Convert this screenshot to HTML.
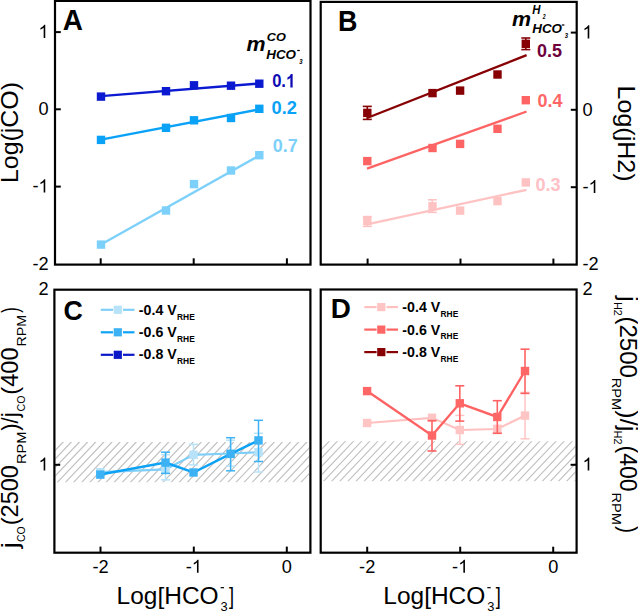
<!DOCTYPE html>
<html><head><meta charset="utf-8"><style>
html,body{margin:0;padding:0;background:#fff;}
svg{display:block;font-family:"Liberation Sans", sans-serif;}
</style></head><body>
<svg width="638" height="613" viewBox="0 0 638 613">
<rect x="0" y="0" width="638" height="613" fill="#fff"/>
<line x1="101" y1="244.6" x2="259.3" y2="155.5" stroke="#7dd0fa" stroke-width="2.35" />
<rect x="96.8" y="240.4" width="8.4" height="8.4" fill="#7dd0fa"/>
<rect x="161.8" y="206.3" width="8.4" height="8.4" fill="#7dd0fa"/>
<rect x="189.8" y="179.9" width="8.4" height="8.4" fill="#7dd0fa"/>
<rect x="226.8" y="166.3" width="8.4" height="8.4" fill="#7dd0fa"/>
<rect x="255.1" y="151.0" width="8.4" height="8.4" fill="#7dd0fa"/>
<line x1="101" y1="139.7" x2="259.3" y2="109.3" stroke="#0aa2f6" stroke-width="2.35" />
<rect x="96.8" y="135.7" width="8.4" height="8.4" fill="#0aa2f6"/>
<rect x="161.8" y="123.6" width="8.4" height="8.4" fill="#0aa2f6"/>
<rect x="189.8" y="116.1" width="8.4" height="8.4" fill="#0aa2f6"/>
<rect x="226.8" y="113.8" width="8.4" height="8.4" fill="#0aa2f6"/>
<rect x="255.1" y="104.6" width="8.4" height="8.4" fill="#0aa2f6"/>
<line x1="101" y1="96.2" x2="259.3" y2="83.5" stroke="#0b1ad0" stroke-width="2.35" />
<rect x="96.8" y="92.4" width="8.4" height="8.4" fill="#0b1ad0"/>
<rect x="161.8" y="87.0" width="8.4" height="8.4" fill="#0b1ad0"/>
<rect x="189.8" y="81.1" width="8.4" height="8.4" fill="#0b1ad0"/>
<rect x="226.8" y="81.5" width="8.4" height="8.4" fill="#0b1ad0"/>
<rect x="255.1" y="79.5" width="8.4" height="8.4" fill="#0b1ad0"/>
<line x1="367.3" y1="216.6" x2="367.3" y2="226.4" stroke="#ffc2c2" stroke-width="1.6" />
<line x1="362.8" y1="216.6" x2="371.8" y2="216.6" stroke="#ffc2c2" stroke-width="1.6" />
<line x1="362.8" y1="226.4" x2="371.8" y2="226.4" stroke="#ffc2c2" stroke-width="1.6" />
<line x1="432.3" y1="199.8" x2="432.3" y2="212.4" stroke="#ffc2c2" stroke-width="1.6" />
<line x1="427.8" y1="199.8" x2="436.8" y2="199.8" stroke="#ffc2c2" stroke-width="1.6" />
<line x1="427.8" y1="212.4" x2="436.8" y2="212.4" stroke="#ffc2c2" stroke-width="1.6" />
<line x1="367" y1="224.3" x2="526.6" y2="189.8" stroke="#ffc2c2" stroke-width="2.35" />
<rect x="363.1" y="216.9" width="8.4" height="8.4" fill="#ffc2c2"/>
<rect x="428.3" y="202.1" width="8.4" height="8.4" fill="#ffc2c2"/>
<rect x="455.9" y="206.4" width="8.4" height="8.4" fill="#ffc2c2"/>
<rect x="493.3" y="196.9" width="8.4" height="8.4" fill="#ffc2c2"/>
<rect x="521.6" y="178.2" width="8.4" height="8.4" fill="#ffc2c2"/>
<line x1="367" y1="168.6" x2="526.6" y2="111.5" stroke="#ff6464" stroke-width="2.35" />
<rect x="363.1" y="156.9" width="8.4" height="8.4" fill="#ff6464"/>
<rect x="428.3" y="143.8" width="8.4" height="8.4" fill="#ff6464"/>
<rect x="455.9" y="139.7" width="8.4" height="8.4" fill="#ff6464"/>
<rect x="493.3" y="124.6" width="8.4" height="8.4" fill="#ff6464"/>
<rect x="521.6" y="96.0" width="8.4" height="8.4" fill="#ff6464"/>
<line x1="367.3" y1="106.4" x2="367.3" y2="119.4" stroke="#860004" stroke-width="1.6" />
<line x1="362.8" y1="106.4" x2="371.8" y2="106.4" stroke="#860004" stroke-width="1.6" />
<line x1="362.8" y1="119.4" x2="371.8" y2="119.4" stroke="#860004" stroke-width="1.6" />
<line x1="525.8" y1="38.0" x2="525.8" y2="49.6" stroke="#860004" stroke-width="1.6" />
<line x1="521.3" y1="38.0" x2="530.3" y2="38.0" stroke="#860004" stroke-width="1.6" />
<line x1="521.3" y1="49.6" x2="530.3" y2="49.6" stroke="#860004" stroke-width="1.6" />
<line x1="367" y1="118.0" x2="526.6" y2="55.1" stroke="#860004" stroke-width="2.35" />
<rect x="363.1" y="108.7" width="8.4" height="8.4" fill="#860004"/>
<rect x="428.3" y="88.9" width="8.4" height="8.4" fill="#860004"/>
<rect x="455.9" y="86.4" width="8.4" height="8.4" fill="#860004"/>
<rect x="493.3" y="70.3" width="8.4" height="8.4" fill="#860004"/>
<rect x="521.6" y="39.6" width="8.4" height="8.4" fill="#860004"/>
<clipPath id="hc"><rect x="55.3" y="442.0" width="253.89999999999998" height="40.30000000000001"/></clipPath>
<g clip-path="url(#hc)" stroke="#c0c0c0" stroke-width="1.15" stroke-linecap="round"><line x1="8.58" y1="482.3" x2="46.95" y2="442.0"/><line x1="16.70" y1="482.3" x2="55.07" y2="442.0"/><line x1="24.82" y1="482.3" x2="63.19" y2="442.0"/><line x1="32.94" y1="482.3" x2="71.31" y2="442.0"/><line x1="41.06" y1="482.3" x2="79.43" y2="442.0"/><line x1="49.18" y1="482.3" x2="87.55" y2="442.0"/><line x1="57.30" y1="482.3" x2="95.67" y2="442.0"/><line x1="65.42" y1="482.3" x2="103.79" y2="442.0"/><line x1="73.54" y1="482.3" x2="111.91" y2="442.0"/><line x1="81.66" y1="482.3" x2="120.03" y2="442.0"/><line x1="89.78" y1="482.3" x2="128.15" y2="442.0"/><line x1="97.90" y1="482.3" x2="136.27" y2="442.0"/><line x1="106.02" y1="482.3" x2="144.39" y2="442.0"/><line x1="114.14" y1="482.3" x2="152.51" y2="442.0"/><line x1="122.26" y1="482.3" x2="160.63" y2="442.0"/><line x1="130.38" y1="482.3" x2="168.75" y2="442.0"/><line x1="138.50" y1="482.3" x2="176.87" y2="442.0"/><line x1="146.62" y1="482.3" x2="184.99" y2="442.0"/><line x1="154.74" y1="482.3" x2="193.11" y2="442.0"/><line x1="162.86" y1="482.3" x2="201.23" y2="442.0"/><line x1="170.98" y1="482.3" x2="209.35" y2="442.0"/><line x1="179.10" y1="482.3" x2="217.47" y2="442.0"/><line x1="187.22" y1="482.3" x2="225.59" y2="442.0"/><line x1="195.34" y1="482.3" x2="233.71" y2="442.0"/><line x1="203.46" y1="482.3" x2="241.83" y2="442.0"/><line x1="211.58" y1="482.3" x2="249.95" y2="442.0"/><line x1="219.70" y1="482.3" x2="258.07" y2="442.0"/><line x1="227.82" y1="482.3" x2="266.19" y2="442.0"/><line x1="235.94" y1="482.3" x2="274.31" y2="442.0"/><line x1="244.06" y1="482.3" x2="282.43" y2="442.0"/><line x1="252.18" y1="482.3" x2="290.55" y2="442.0"/><line x1="260.30" y1="482.3" x2="298.67" y2="442.0"/><line x1="268.42" y1="482.3" x2="306.79" y2="442.0"/><line x1="276.54" y1="482.3" x2="314.91" y2="442.0"/><line x1="284.66" y1="482.3" x2="323.03" y2="442.0"/><line x1="292.78" y1="482.3" x2="331.15" y2="442.0"/><line x1="300.90" y1="482.3" x2="339.27" y2="442.0"/><line x1="309.02" y1="482.3" x2="347.39" y2="442.0"/></g>
<line x1="165.5" y1="454.7" x2="165.5" y2="479.9" stroke="#b8e2f8" stroke-width="1.5" />
<line x1="161.0" y1="454.7" x2="170.0" y2="454.7" stroke="#b8e2f8" stroke-width="1.5" />
<line x1="161.0" y1="479.9" x2="170.0" y2="479.9" stroke="#b8e2f8" stroke-width="1.5" />
<line x1="193.5" y1="444.4" x2="193.5" y2="464.9" stroke="#b8e2f8" stroke-width="1.5" />
<line x1="189.0" y1="444.4" x2="198.0" y2="444.4" stroke="#b8e2f8" stroke-width="1.5" />
<line x1="189.0" y1="464.9" x2="198.0" y2="464.9" stroke="#b8e2f8" stroke-width="1.5" />
<line x1="230.6" y1="440.2" x2="230.6" y2="466.1" stroke="#b8e2f8" stroke-width="1.5" />
<line x1="226.1" y1="440.2" x2="235.1" y2="440.2" stroke="#b8e2f8" stroke-width="1.5" />
<line x1="226.1" y1="466.1" x2="235.1" y2="466.1" stroke="#b8e2f8" stroke-width="1.5" />
<line x1="258.5" y1="433.3" x2="258.5" y2="472.0" stroke="#b8e2f8" stroke-width="1.5" />
<line x1="254.0" y1="433.3" x2="263.0" y2="433.3" stroke="#b8e2f8" stroke-width="1.5" />
<line x1="254.0" y1="472.0" x2="263.0" y2="472.0" stroke="#b8e2f8" stroke-width="1.5" />
<polyline points="100.3,472.2 165.5,469.4 193.5,454.8 230.6,453.5 258.5,452.2" fill="none" stroke="#7fcff8" stroke-width="2.2"/>
<rect x="96.1" y="468.0" width="8.4" height="8.4" fill="#b8e2f8"/>
<rect x="161.3" y="465.2" width="8.4" height="8.4" fill="#b8e2f8"/>
<rect x="189.3" y="450.6" width="8.4" height="8.4" fill="#b8e2f8"/>
<rect x="226.4" y="449.3" width="8.4" height="8.4" fill="#b8e2f8"/>
<rect x="254.3" y="448.0" width="8.4" height="8.4" fill="#b8e2f8"/>
<line x1="165.5" y1="452.2" x2="165.5" y2="473.4" stroke="#3cb2f4" stroke-width="1.5" />
<line x1="161.0" y1="452.2" x2="170.0" y2="452.2" stroke="#3cb2f4" stroke-width="1.5" />
<line x1="161.0" y1="473.4" x2="170.0" y2="473.4" stroke="#3cb2f4" stroke-width="1.5" />
<line x1="230.6" y1="437.7" x2="230.6" y2="470.8" stroke="#3cb2f4" stroke-width="1.5" />
<line x1="226.1" y1="437.7" x2="235.1" y2="437.7" stroke="#3cb2f4" stroke-width="1.5" />
<line x1="226.1" y1="470.8" x2="235.1" y2="470.8" stroke="#3cb2f4" stroke-width="1.5" />
<line x1="258.5" y1="420.3" x2="258.5" y2="461.5" stroke="#3cb2f4" stroke-width="1.5" />
<line x1="254.0" y1="420.3" x2="263.0" y2="420.3" stroke="#3cb2f4" stroke-width="1.5" />
<line x1="254.0" y1="461.5" x2="263.0" y2="461.5" stroke="#3cb2f4" stroke-width="1.5" />
<polyline points="100.3,474.6 165.5,462.6 193.5,472.5 230.6,453.9 258.5,440.4" fill="none" stroke="#0ea2f4" stroke-width="2.5"/>
<rect x="96.1" y="470.4" width="8.4" height="8.4" fill="#3cb2f4"/>
<rect x="161.3" y="458.4" width="8.4" height="8.4" fill="#3cb2f4"/>
<rect x="189.3" y="468.3" width="8.4" height="8.4" fill="#3cb2f4"/>
<rect x="226.4" y="449.7" width="8.4" height="8.4" fill="#3cb2f4"/>
<rect x="254.3" y="436.2" width="8.4" height="8.4" fill="#3cb2f4"/>
<line x1="100.8" y1="309.8" x2="113.1" y2="309.8" stroke="#7fcff8" stroke-width="2.2" />
<line x1="123.0" y1="309.8" x2="134.5" y2="309.8" stroke="#7fcff8" stroke-width="2.2" />
<rect x="113.7" y="305.7" width="8.2" height="8.2" fill="#b8e2f8"/>
<text x="138.85" y="315.00" font-size="14.6" font-weight="bold" font-style="normal" fill="#000" textLength="37.85" lengthAdjust="spacingAndGlyphs">-0.4 V</text>
<text x="177.04" y="319.80" font-size="9.3" font-weight="bold" font-style="normal" fill="#000" textLength="17.69" lengthAdjust="spacingAndGlyphs">RHE</text>
<line x1="100.8" y1="332.3" x2="113.1" y2="332.3" stroke="#0ea2f4" stroke-width="2.2" />
<line x1="123.0" y1="332.3" x2="134.5" y2="332.3" stroke="#0ea2f4" stroke-width="2.2" />
<rect x="113.7" y="328.2" width="8.2" height="8.2" fill="#3cb2f4"/>
<text x="138.85" y="337.20" font-size="14.6" font-weight="bold" font-style="normal" fill="#000" textLength="37.85" lengthAdjust="spacingAndGlyphs">-0.6 V</text>
<text x="177.04" y="342.00" font-size="9.3" font-weight="bold" font-style="normal" fill="#000" textLength="17.69" lengthAdjust="spacingAndGlyphs">RHE</text>
<line x1="100.8" y1="354.8" x2="113.1" y2="354.8" stroke="#0a18c8" stroke-width="2.2" />
<line x1="123.0" y1="354.8" x2="134.5" y2="354.8" stroke="#0a18c8" stroke-width="2.2" />
<rect x="113.7" y="350.7" width="8.2" height="8.2" fill="#0a18c8"/>
<text x="138.85" y="359.40" font-size="14.6" font-weight="bold" font-style="normal" fill="#000" textLength="37.85" lengthAdjust="spacingAndGlyphs">-0.8 V</text>
<text x="177.04" y="364.20" font-size="9.3" font-weight="bold" font-style="normal" fill="#000" textLength="17.69" lengthAdjust="spacingAndGlyphs">RHE</text>
<clipPath id="hd"><rect x="322.1" y="441.2" width="253.5" height="40.10000000000002"/></clipPath>
<g clip-path="url(#hd)" stroke="#c0c0c0" stroke-width="1.15" stroke-linecap="round"><line x1="274.90" y1="481.3" x2="313.08" y2="441.2"/><line x1="283.00" y1="481.3" x2="321.18" y2="441.2"/><line x1="291.10" y1="481.3" x2="329.28" y2="441.2"/><line x1="299.20" y1="481.3" x2="337.38" y2="441.2"/><line x1="307.30" y1="481.3" x2="345.48" y2="441.2"/><line x1="315.40" y1="481.3" x2="353.58" y2="441.2"/><line x1="323.50" y1="481.3" x2="361.68" y2="441.2"/><line x1="331.60" y1="481.3" x2="369.78" y2="441.2"/><line x1="339.70" y1="481.3" x2="377.88" y2="441.2"/><line x1="347.80" y1="481.3" x2="385.98" y2="441.2"/><line x1="355.90" y1="481.3" x2="394.08" y2="441.2"/><line x1="364.00" y1="481.3" x2="402.18" y2="441.2"/><line x1="372.10" y1="481.3" x2="410.28" y2="441.2"/><line x1="380.20" y1="481.3" x2="418.38" y2="441.2"/><line x1="388.30" y1="481.3" x2="426.48" y2="441.2"/><line x1="396.40" y1="481.3" x2="434.58" y2="441.2"/><line x1="404.50" y1="481.3" x2="442.68" y2="441.2"/><line x1="412.60" y1="481.3" x2="450.78" y2="441.2"/><line x1="420.70" y1="481.3" x2="458.88" y2="441.2"/><line x1="428.80" y1="481.3" x2="466.98" y2="441.2"/><line x1="436.90" y1="481.3" x2="475.08" y2="441.2"/><line x1="445.00" y1="481.3" x2="483.18" y2="441.2"/><line x1="453.10" y1="481.3" x2="491.28" y2="441.2"/><line x1="461.20" y1="481.3" x2="499.38" y2="441.2"/><line x1="469.30" y1="481.3" x2="507.48" y2="441.2"/><line x1="477.40" y1="481.3" x2="515.58" y2="441.2"/><line x1="485.50" y1="481.3" x2="523.68" y2="441.2"/><line x1="493.60" y1="481.3" x2="531.78" y2="441.2"/><line x1="501.70" y1="481.3" x2="539.88" y2="441.2"/><line x1="509.80" y1="481.3" x2="547.98" y2="441.2"/><line x1="517.90" y1="481.3" x2="556.08" y2="441.2"/><line x1="526.00" y1="481.3" x2="564.18" y2="441.2"/><line x1="534.10" y1="481.3" x2="572.28" y2="441.2"/><line x1="542.20" y1="481.3" x2="580.38" y2="441.2"/><line x1="550.30" y1="481.3" x2="588.48" y2="441.2"/><line x1="558.40" y1="481.3" x2="596.58" y2="441.2"/><line x1="566.50" y1="481.3" x2="604.68" y2="441.2"/><line x1="574.60" y1="481.3" x2="612.78" y2="441.2"/></g>
<line x1="459.8" y1="415.4" x2="459.8" y2="444.3" stroke="#ffc4c4" stroke-width="1.5" />
<line x1="455.3" y1="415.4" x2="464.3" y2="415.4" stroke="#ffc4c4" stroke-width="1.5" />
<line x1="455.3" y1="444.3" x2="464.3" y2="444.3" stroke="#ffc4c4" stroke-width="1.5" />
<line x1="497.3" y1="425.5" x2="497.3" y2="432.5" stroke="#ffc4c4" stroke-width="1.5" />
<line x1="492.8" y1="425.5" x2="501.8" y2="425.5" stroke="#ffc4c4" stroke-width="1.5" />
<line x1="492.8" y1="432.5" x2="501.8" y2="432.5" stroke="#ffc4c4" stroke-width="1.5" />
<line x1="525" y1="392.4" x2="525" y2="438.8" stroke="#ffc4c4" stroke-width="1.5" />
<line x1="520.5" y1="392.4" x2="529.5" y2="392.4" stroke="#ffc4c4" stroke-width="1.5" />
<line x1="520.5" y1="438.8" x2="529.5" y2="438.8" stroke="#ffc4c4" stroke-width="1.5" />
<polyline points="367.1,423 432,417.8 459.8,430 497.3,429 525,415.6" fill="none" stroke="#ffc0c0" stroke-width="2.2"/>
<rect x="362.9" y="418.8" width="8.4" height="8.4" fill="#ffc4c4"/>
<rect x="427.8" y="413.6" width="8.4" height="8.4" fill="#ffc4c4"/>
<rect x="455.6" y="425.8" width="8.4" height="8.4" fill="#ffc4c4"/>
<rect x="493.1" y="424.8" width="8.4" height="8.4" fill="#ffc4c4"/>
<rect x="520.8" y="411.4" width="8.4" height="8.4" fill="#ffc4c4"/>
<line x1="432" y1="420.6" x2="432" y2="451.0" stroke="#ff6262" stroke-width="1.6" />
<line x1="427.5" y1="420.6" x2="436.5" y2="420.6" stroke="#ff6262" stroke-width="1.6" />
<line x1="427.5" y1="451.0" x2="436.5" y2="451.0" stroke="#ff6262" stroke-width="1.6" />
<line x1="459.8" y1="385.8" x2="459.8" y2="421.1" stroke="#ff6262" stroke-width="1.6" />
<line x1="455.3" y1="385.8" x2="464.3" y2="385.8" stroke="#ff6262" stroke-width="1.6" />
<line x1="455.3" y1="421.1" x2="464.3" y2="421.1" stroke="#ff6262" stroke-width="1.6" />
<line x1="497.3" y1="400.7" x2="497.3" y2="433.3" stroke="#ff6262" stroke-width="1.6" />
<line x1="492.8" y1="400.7" x2="501.8" y2="400.7" stroke="#ff6262" stroke-width="1.6" />
<line x1="492.8" y1="433.3" x2="501.8" y2="433.3" stroke="#ff6262" stroke-width="1.6" />
<line x1="525" y1="349.2" x2="525" y2="393.4" stroke="#ff6262" stroke-width="1.6" />
<line x1="520.5" y1="349.2" x2="529.5" y2="349.2" stroke="#ff6262" stroke-width="1.6" />
<line x1="520.5" y1="393.4" x2="529.5" y2="393.4" stroke="#ff6262" stroke-width="1.6" />
<polyline points="367.1,391.1 432,435.5 459.8,403.3 497.3,417 525,371" fill="none" stroke="#ff6262" stroke-width="2.4"/>
<rect x="362.9" y="386.9" width="8.4" height="8.4" fill="#ff6666"/>
<rect x="427.8" y="431.3" width="8.4" height="8.4" fill="#ff6666"/>
<rect x="455.6" y="399.1" width="8.4" height="8.4" fill="#ff6666"/>
<rect x="493.1" y="412.8" width="8.4" height="8.4" fill="#ff6666"/>
<rect x="520.8" y="366.8" width="8.4" height="8.4" fill="#ff6666"/>
<line x1="364.3" y1="307.1" x2="376.6" y2="307.1" stroke="#ffc0c0" stroke-width="2.2" />
<line x1="386.5" y1="307.1" x2="398.0" y2="307.1" stroke="#ffc0c0" stroke-width="2.2" />
<rect x="377.2" y="303.0" width="8.2" height="8.2" fill="#ffc4c4"/>
<text x="402.35" y="312.30" font-size="14.6" font-weight="bold" font-style="normal" fill="#000" textLength="37.85" lengthAdjust="spacingAndGlyphs">-0.4 V</text>
<text x="440.54" y="317.10" font-size="9.3" font-weight="bold" font-style="normal" fill="#000" textLength="17.69" lengthAdjust="spacingAndGlyphs">RHE</text>
<line x1="364.3" y1="329.6" x2="376.6" y2="329.6" stroke="#ff6262" stroke-width="2.2" />
<line x1="386.5" y1="329.6" x2="398.0" y2="329.6" stroke="#ff6262" stroke-width="2.2" />
<rect x="377.2" y="325.5" width="8.2" height="8.2" fill="#ff6666"/>
<text x="402.35" y="334.50" font-size="14.6" font-weight="bold" font-style="normal" fill="#000" textLength="37.85" lengthAdjust="spacingAndGlyphs">-0.6 V</text>
<text x="440.54" y="339.30" font-size="9.3" font-weight="bold" font-style="normal" fill="#000" textLength="17.69" lengthAdjust="spacingAndGlyphs">RHE</text>
<line x1="364.3" y1="352.1" x2="376.6" y2="352.1" stroke="#860004" stroke-width="2.2" />
<line x1="386.5" y1="352.1" x2="398.0" y2="352.1" stroke="#860004" stroke-width="2.2" />
<rect x="377.2" y="348.0" width="8.2" height="8.2" fill="#860004"/>
<text x="402.35" y="356.70" font-size="14.6" font-weight="bold" font-style="normal" fill="#000" textLength="37.85" lengthAdjust="spacingAndGlyphs">-0.8 V</text>
<text x="440.54" y="361.50" font-size="9.3" font-weight="bold" font-style="normal" fill="#000" textLength="17.69" lengthAdjust="spacingAndGlyphs">RHE</text>
<rect x="55" y="0.9" width="255.5" height="263.70000000000005" fill="none" stroke="#000" stroke-width="2.2"/>
<rect x="320.7" y="1.9" width="256.00000000000006" height="262.70000000000005" fill="none" stroke="#000" stroke-width="2.2"/>
<rect x="54.4" y="289.7" width="255.99999999999997" height="263.00000000000006" fill="none" stroke="#000" stroke-width="2.2"/>
<rect x="320.7" y="289.5" width="255.90000000000003" height="263.20000000000005" fill="none" stroke="#000" stroke-width="2.2"/>
<line x1="55" y1="32.1" x2="60.8" y2="32.1" stroke="#000" stroke-width="2.0" />
<line x1="55" y1="109.3" x2="60.8" y2="109.3" stroke="#000" stroke-width="2.0" />
<line x1="55" y1="186.6" x2="60.8" y2="186.6" stroke="#000" stroke-width="2.0" />
<line x1="100.7" y1="264.3" x2="100.7" y2="258.3" stroke="#000" stroke-width="2.0" />
<line x1="193.7" y1="264.3" x2="193.7" y2="258.3" stroke="#000" stroke-width="2.0" />
<line x1="286.9" y1="264.3" x2="286.9" y2="258.3" stroke="#000" stroke-width="2.0" />
<line x1="576.7" y1="32.6" x2="570.8" y2="32.6" stroke="#000" stroke-width="2.0" />
<line x1="576.7" y1="109.8" x2="570.8" y2="109.8" stroke="#000" stroke-width="2.0" />
<line x1="576.7" y1="187.2" x2="570.8" y2="187.2" stroke="#000" stroke-width="2.0" />
<line x1="367.6" y1="264.6" x2="367.6" y2="258.6" stroke="#000" stroke-width="2.0" />
<line x1="460.5" y1="264.6" x2="460.5" y2="258.6" stroke="#000" stroke-width="2.0" />
<line x1="553.4" y1="264.6" x2="553.4" y2="258.6" stroke="#000" stroke-width="2.0" />
<line x1="54.4" y1="464.8" x2="60.2" y2="464.8" stroke="#000" stroke-width="2.0" />
<line x1="100.5" y1="552.6" x2="100.5" y2="546.6" stroke="#000" stroke-width="2.0" />
<line x1="193.8" y1="552.6" x2="193.8" y2="546.6" stroke="#000" stroke-width="2.0" />
<line x1="286.8" y1="552.6" x2="286.8" y2="546.6" stroke="#000" stroke-width="2.0" />
<line x1="576.6" y1="464.8" x2="570.6" y2="464.8" stroke="#000" stroke-width="2.0" />
<line x1="367.2" y1="552.7" x2="367.2" y2="546.7" stroke="#000" stroke-width="2.0" />
<line x1="460.2" y1="552.7" x2="460.2" y2="546.7" stroke="#000" stroke-width="2.0" />
<line x1="553.2" y1="552.7" x2="553.2" y2="546.7" stroke="#000" stroke-width="2.0" />
<path transform="translate(38.48,37.90) scale(0.00889,-0.00889)" d="M763 0L583 0L583 1147Q518 1085 412 1023Q306 961 222 930L222 1104Q373 1175 486 1276Q599 1377 646 1472L763 1472Z" fill="#000"/>
<text x="38.48" y="115.10" font-size="18.2" font-weight="normal" fill="#000" textLength="10.12" lengthAdjust="spacingAndGlyphs">0</text>
<text x="32.42" y="192.40" font-size="18.2" font-weight="normal" fill="#000" textLength="6.06" lengthAdjust="spacingAndGlyphs">-</text><path transform="translate(38.48,192.40) scale(0.00889,-0.00889)" d="M763 0L583 0L583 1147Q518 1085 412 1023Q306 961 222 930L222 1104Q373 1175 486 1276Q599 1377 646 1472L763 1472Z" fill="#000"/>
<text x="32.42" y="269.80" font-size="18.2" font-weight="normal" fill="#000" textLength="16.18" lengthAdjust="spacingAndGlyphs">-2</text>
<path transform="translate(582.50,38.40) scale(0.00889,-0.00889)" d="M763 0L583 0L583 1147Q518 1085 412 1023Q306 961 222 930L222 1104Q373 1175 486 1276Q599 1377 646 1472L763 1472Z" fill="#000"/>
<text x="582.50" y="115.60" font-size="18.2" font-weight="normal" fill="#000" textLength="10.12" lengthAdjust="spacingAndGlyphs">0</text>
<text x="582.50" y="193.00" font-size="18.2" font-weight="normal" fill="#000" textLength="6.06" lengthAdjust="spacingAndGlyphs">-</text><path transform="translate(588.56,193.00) scale(0.00889,-0.00889)" d="M763 0L583 0L583 1147Q518 1085 412 1023Q306 961 222 930L222 1104Q373 1175 486 1276Q599 1377 646 1472L763 1472Z" fill="#000"/>
<text x="582.50" y="270.40" font-size="18.2" font-weight="normal" fill="#000" textLength="16.18" lengthAdjust="spacingAndGlyphs">-2</text>
<text x="38.48" y="295.20" font-size="18.2" font-weight="normal" fill="#000" textLength="10.12" lengthAdjust="spacingAndGlyphs">2</text>
<path transform="translate(38.48,470.60) scale(0.00889,-0.00889)" d="M763 0L583 0L583 1147Q518 1085 412 1023Q306 961 222 930L222 1104Q373 1175 486 1276Q599 1377 646 1472L763 1472Z" fill="#000"/>
<text x="582.50" y="295.20" font-size="18.2" font-weight="normal" fill="#000" textLength="10.12" lengthAdjust="spacingAndGlyphs">2</text>
<path transform="translate(582.50,470.60) scale(0.00889,-0.00889)" d="M763 0L583 0L583 1147Q518 1085 412 1023Q306 961 222 930L222 1104Q373 1175 486 1276Q599 1377 646 1472L763 1472Z" fill="#000"/>
<text x="92.41" y="572.80" font-size="18.2" font-weight="normal" fill="#000" textLength="16.18" lengthAdjust="spacingAndGlyphs">-2</text>
<text x="185.71" y="572.80" font-size="18.2" font-weight="normal" fill="#000" textLength="6.06" lengthAdjust="spacingAndGlyphs">-</text><path transform="translate(191.77,572.80) scale(0.00889,-0.00889)" d="M763 0L583 0L583 1147Q518 1085 412 1023Q306 961 222 930L222 1104Q373 1175 486 1276Q599 1377 646 1472L763 1472Z" fill="#000"/>
<text x="281.74" y="572.80" font-size="18.2" font-weight="normal" fill="#000" textLength="10.12" lengthAdjust="spacingAndGlyphs">0</text>
<text x="359.11" y="572.80" font-size="18.2" font-weight="normal" fill="#000" textLength="16.18" lengthAdjust="spacingAndGlyphs">-2</text>
<text x="452.11" y="572.80" font-size="18.2" font-weight="normal" fill="#000" textLength="6.06" lengthAdjust="spacingAndGlyphs">-</text><path transform="translate(458.17,572.80) scale(0.00889,-0.00889)" d="M763 0L583 0L583 1147Q518 1085 412 1023Q306 961 222 930L222 1104Q373 1175 486 1276Q599 1377 646 1472L763 1472Z" fill="#000"/>
<text x="548.14" y="572.80" font-size="18.2" font-weight="normal" fill="#000" textLength="10.12" lengthAdjust="spacingAndGlyphs">0</text>
<text x="116.59" y="603.60" font-size="24.5" font-weight="normal" font-style="normal" fill="#000" textLength="102.08" lengthAdjust="spacingAndGlyphs">Log[HCO</text>
<text x="220.61" y="610.90" font-size="12.2" font-weight="normal" font-style="normal" fill="#000" textLength="7.16" lengthAdjust="spacingAndGlyphs">3</text>
<rect x="220.6" y="587.1" width="3.4" height="1.2" fill="#000"/>
<text x="229.06" y="603.60" font-size="24.5" font-weight="normal" font-style="normal" fill="#000" textLength="5.03" lengthAdjust="spacingAndGlyphs">]</text>
<text x="383.29" y="603.60" font-size="24.5" font-weight="normal" font-style="normal" fill="#000" textLength="102.08" lengthAdjust="spacingAndGlyphs">Log[HCO</text>
<text x="487.31" y="610.90" font-size="12.2" font-weight="normal" font-style="normal" fill="#000" textLength="7.16" lengthAdjust="spacingAndGlyphs">3</text>
<rect x="487.3" y="587.1" width="3.4" height="1.2" fill="#000"/>
<text x="495.76" y="603.60" font-size="24.5" font-weight="normal" font-style="normal" fill="#000" textLength="5.03" lengthAdjust="spacingAndGlyphs">]</text>
<g transform="translate(17.9,0) rotate(-90)"><text x="-183.04" y="0.00" font-size="24.0" font-weight="normal" font-style="normal" fill="#000" textLength="100.99" lengthAdjust="spacingAndGlyphs">Log(jCO)</text></g>
<g transform="translate(617.6,0) rotate(90)"><text x="85.55" y="0.00" font-size="24.3" font-weight="normal" font-style="normal" fill="#000" textLength="96.01" lengthAdjust="spacingAndGlyphs">Log(jH2)</text></g>
<g transform="translate(18.0,0) rotate(-90)"><text x="-548.15" y="0.00" font-size="24.3" font-weight="normal" font-style="normal" fill="#000" textLength="5.95" lengthAdjust="spacingAndGlyphs">j</text><text x="-541.93" y="7.20" font-size="11.3" font-weight="normal" font-style="normal" fill="#000" textLength="15.63" lengthAdjust="spacingAndGlyphs">CO</text><text x="-525.26" y="0.00" font-size="24.3" font-weight="normal" font-style="normal" fill="#000" textLength="60.18" lengthAdjust="spacingAndGlyphs">(2500</text><text x="-464.00" y="8.30" font-size="13.3" font-weight="normal" font-style="normal" fill="#000" textLength="32.50" lengthAdjust="spacingAndGlyphs">RPM</text><text x="-430.73" y="0.00" font-size="24.3" font-weight="normal" font-style="normal" fill="#000" textLength="18.31" lengthAdjust="spacingAndGlyphs">)/j</text><text x="-411.44" y="7.20" font-size="11.3" font-weight="normal" font-style="normal" fill="#000" textLength="16.06" lengthAdjust="spacingAndGlyphs">CO</text><text x="-394.67" y="0.00" font-size="24.3" font-weight="normal" font-style="normal" fill="#000" textLength="47.29" lengthAdjust="spacingAndGlyphs">(400</text><text x="-346.47" y="8.30" font-size="13.3" font-weight="normal" font-style="normal" fill="#000" textLength="31.74" lengthAdjust="spacingAndGlyphs">RPM</text><text x="-312.80" y="0.00" font-size="24.3" font-weight="normal" font-style="normal" fill="#000" textLength="5.65" lengthAdjust="spacingAndGlyphs">)</text></g>
<g transform="translate(620.3,0) rotate(90)"><text x="296.14" y="0.00" font-size="23.3" font-weight="normal" font-style="normal" fill="#000" textLength="5.83" lengthAdjust="spacingAndGlyphs">j</text><text x="302.01" y="6.60" font-size="10.8" font-weight="normal" font-style="normal" fill="#000" textLength="13.83" lengthAdjust="spacingAndGlyphs">H2</text><text x="316.41" y="0.00" font-size="23.3" font-weight="normal" font-style="normal" fill="#000" textLength="61.53" lengthAdjust="spacingAndGlyphs">(2500</text><text x="377.70" y="8.60" font-size="12.3" font-weight="normal" font-style="normal" fill="#000" textLength="32.50" lengthAdjust="spacingAndGlyphs">RPM</text><text x="410.25" y="0.00" font-size="23.3" font-weight="normal" font-style="normal" fill="#000" textLength="21.05" lengthAdjust="spacingAndGlyphs">)/j</text><text x="430.61" y="6.60" font-size="10.8" font-weight="normal" font-style="normal" fill="#000" textLength="13.83" lengthAdjust="spacingAndGlyphs">H2</text><text x="445.47" y="0.00" font-size="23.3" font-weight="normal" font-style="normal" fill="#000" textLength="46.13" lengthAdjust="spacingAndGlyphs">(400</text><text x="492.60" y="8.60" font-size="12.3" font-weight="normal" font-style="normal" fill="#000" textLength="32.39" lengthAdjust="spacingAndGlyphs">RPM</text><text x="526.28" y="0.00" font-size="23.3" font-weight="normal" font-style="normal" fill="#000" textLength="6.78" lengthAdjust="spacingAndGlyphs">)</text></g>
<text x="62.71" y="29.50" font-size="29.4" font-weight="bold" font-style="normal" fill="#000" textLength="20.13" lengthAdjust="spacingAndGlyphs">A</text>
<text x="337.90" y="30.60" font-size="29.1" font-weight="bold" font-style="normal" fill="#000" textLength="19.42" lengthAdjust="spacingAndGlyphs">B</text>
<text x="63.40" y="320.30" font-size="28.3" font-weight="bold" font-style="normal" fill="#000" textLength="19.33" lengthAdjust="spacingAndGlyphs">C</text>
<text x="330.73" y="318.20" font-size="27.6" font-weight="bold" font-style="normal" fill="#000" textLength="20.14" lengthAdjust="spacingAndGlyphs">D</text>
<text x="272.14" y="87.40" font-size="18.6" font-weight="bold" fill="#0f0cb4" textLength="13.87" lengthAdjust="spacingAndGlyphs">0.</text><path transform="translate(286.01,87.40) scale(0.00812,-0.00908)" d="M817 0L536 0L536 1059Q382 915 173 846L173 1101Q283 1137 412 1237Q541 1337 589 1470L817 1470Z" fill="#0f0cb4"/>
<text x="271.48" y="114.40" font-size="18.6" font-weight="bold" font-style="normal" fill="#0aa2f6" textLength="25.46" lengthAdjust="spacingAndGlyphs">0.2</text>
<text x="272.69" y="152.40" font-size="18.6" font-weight="bold" font-style="normal" fill="#7dd0fa" textLength="25.00" lengthAdjust="spacingAndGlyphs">0.7</text>
<text x="536.99" y="57.00" font-size="18.6" font-weight="bold" font-style="normal" fill="#6e003c" textLength="25.01" lengthAdjust="spacingAndGlyphs">0.5</text>
<text x="537.59" y="107.30" font-size="18.6" font-weight="bold" font-style="normal" fill="#ff6666" textLength="25.01" lengthAdjust="spacingAndGlyphs">0.4</text>
<text x="535.38" y="191.10" font-size="18.6" font-weight="bold" font-style="normal" fill="#ffc0c6" textLength="25.17" lengthAdjust="spacingAndGlyphs">0.3</text>
<text x="246.53" y="51.20" font-size="21.0" font-weight="bold" font-style="italic" fill="#000" textLength="19.06" lengthAdjust="spacingAndGlyphs">m</text>
<text x="266.88" y="40.70" font-size="11.6" font-weight="bold" font-style="italic" fill="#000" textLength="19.03" lengthAdjust="spacingAndGlyphs">CO</text>
<text x="266.26" y="59.30" font-size="12.6" font-weight="bold" font-style="italic" fill="#000" textLength="29.76" lengthAdjust="spacingAndGlyphs">HCO</text>
<rect x="297.2" y="49.9" width="2.6" height="1.2" fill="#000"/>
<text x="299.35" y="64.40" font-size="7.6" font-weight="bold" font-style="italic" fill="#000" textLength="3.31" lengthAdjust="spacingAndGlyphs">3</text>
<text x="512.03" y="25.70" font-size="21.0" font-weight="bold" font-style="italic" fill="#000" textLength="19.06" lengthAdjust="spacingAndGlyphs">m</text>
<text x="532.30" y="14.30" font-size="12.6" font-weight="bold" font-style="italic" fill="#000" textLength="8.21" lengthAdjust="spacingAndGlyphs">H</text>
<text x="542.78" y="19.40" font-size="7.0" font-weight="bold" font-style="italic" fill="#000" textLength="2.87" lengthAdjust="spacingAndGlyphs">2</text>
<text x="532.26" y="33.30" font-size="12.6" font-weight="bold" font-style="italic" fill="#000" textLength="29.76" lengthAdjust="spacingAndGlyphs">HCO</text>
<rect x="561.8" y="24.4" width="2.6" height="1.2" fill="#000"/>
<text x="564.85" y="38.40" font-size="7.6" font-weight="bold" font-style="italic" fill="#000" textLength="3.31" lengthAdjust="spacingAndGlyphs">3</text>
</svg>
</body></html>
